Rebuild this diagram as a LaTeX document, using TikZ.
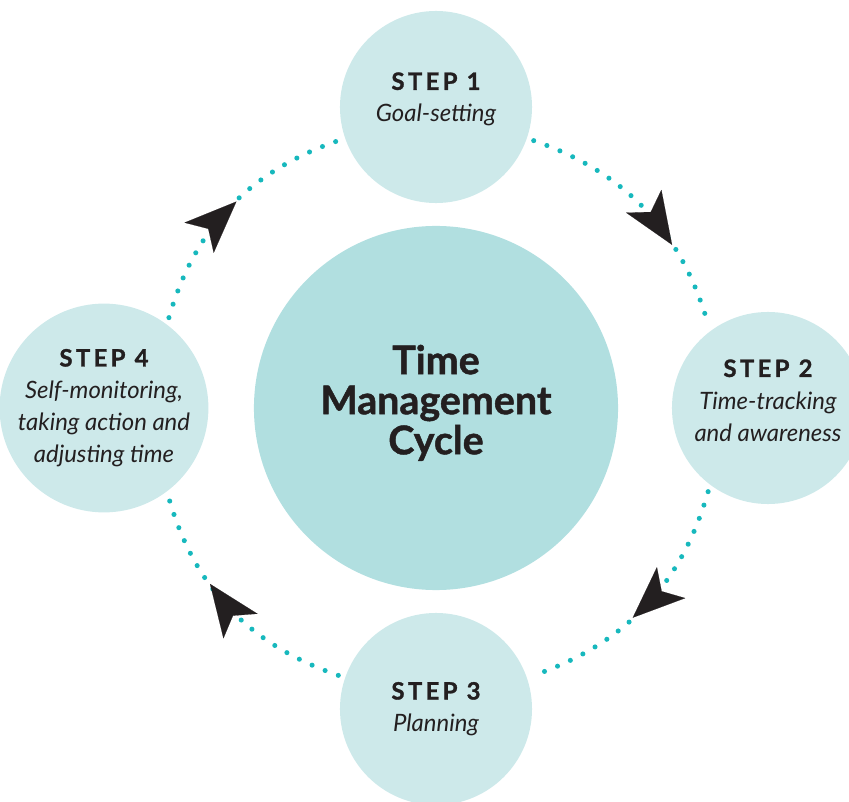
\documentclass[tikz,border=0pt]{standalone}
\usepackage{fontspec}
\setmainfont{Lato}
\usetikzlibrary{arrows.meta,decorations.markings}

\definecolor{stepfill}{HTML}{CDE9EA}
\definecolor{hubfill}{HTML}{B1DFE0}
\definecolor{dotteal}{HTML}{17B8BD}
\definecolor{inkdark}{HTML}{231F20}

% spaced heavy caps for the step numbers
\newcommand{\steptag}[1]{{\bfseries\addfontfeatures{LetterSpace=14,FakeBold=1.2}#1}}

\tikzset{
  stepnode/.style={circle, fill=stepfill, minimum size=4.8cm, inner sep=0pt,
    align=center, text=inkdark, font=\fontsize{17}{22.8}\selectfont},
  hubnode/.style={circle, fill=hubfill, minimum size=9.1cm, inner sep=0pt,
    align=center, text=inkdark,
    font=\fontsize{28}{28.5}\selectfont\bfseries\addfontfeatures{FakeBold=1.2}},
  dotline/.style={dotteal, line width=3.6pt, line cap=round,
    dash pattern=on 0pt off 10pt, shorten <=5pt, shorten >=5pt},
  headat/.style={postaction={decorate}, decoration={markings,
    mark=at position #1 with {\arrow{Stealth[length=1.3cm, width=1.05cm,
      inset=0.32cm, line width=0.1pt, color=inkdark, fill=inkdark]}}}}
}

\begin{document}
\begin{tikzpicture}[x=0.025cm, y=0.025cm]
\useasboundingbox (-436,-394) rectangle (413,408);
\clip (-436,-394) rectangle (413,408);

% centre and the four steps
\node[hubnode, text depth=12pt] (hub) at (0,0) {Time\\Management\\Cycle};
\node[stepnode, text depth=14pt] (step1) at (0,301) {\steptag{STEP 1}\\\itshape Goal-setting};
\node[stepnode, text depth=11pt] (step2) at (332,0) {\steptag{STEP 2}\\\itshape Time-tracking\\\itshape and awareness};
\node[stepnode] (step3) at (0,-301) {\steptag{STEP 3}\\\itshape Planning};
\node[stepnode] (step4) at (-332,0) {\steptag{STEP 4}\\\itshape Self-monitoring,\\\itshape taking action and\\\itshape adjusting time};

% dotted ring, clockwise
\draw[dotline, headat=0.66] (step1.-19) to[out=-19, in=106] (step2.127);
\draw[dotline, headat=0.56] (step2.-127) to[out=-106, in=19] (step3.19);
\draw[dotline, headat=0.62] (step3.161) to[out=161, in=-74] (step4.-53);
\draw[dotline, headat=0.53] (step4.53) to[out=74, in=-161] (step1.199);
\end{tikzpicture}
\end{document}
